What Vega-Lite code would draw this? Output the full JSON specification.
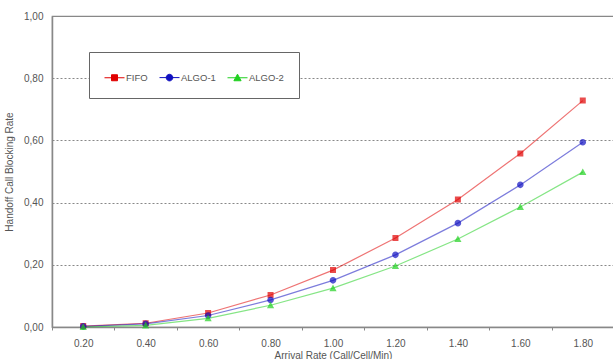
{
  "$schema": "https://vega.github.io/schema/vega-lite/v6.json",
  "width": 562,
  "height": 311,
  "autosize": {"type": "none"},
  "padding": {"left": 52, "top": 16, "right": 0, "bottom": 32},
  "background": "white",
  "config": {
    "view": {"stroke": "#888888", "strokeWidth": 1.2},
    "font": "Liberation Sans",
    "axis": {"labelFont": "Liberation Sans", "titleFont": "Liberation Sans", "labelColor": "#555555", "titleColor": "#555555", "labelFontSize": 10, "titleFontSize": 10, "titleFontWeight": "normal", "domainColor": "#888888", "domainWidth": 1.5, "tickColor": "#888888"},
    "legend": {"labelFont": "Liberation Sans", "labelFontSize": 10, "labelColor": "#555555"}
  },
  "data": {"values": [
    {"rate": "0.20", "series": "FIFO", "value": 0.003},
    {"rate": "0.40", "series": "FIFO", "value": 0.012},
    {"rate": "0.60", "series": "FIFO", "value": 0.045},
    {"rate": "0.80", "series": "FIFO", "value": 0.103},
    {"rate": "1.00", "series": "FIFO", "value": 0.183},
    {"rate": "1.20", "series": "FIFO", "value": 0.286},
    {"rate": "1.40", "series": "FIFO", "value": 0.41},
    {"rate": "1.60", "series": "FIFO", "value": 0.558},
    {"rate": "1.80", "series": "FIFO", "value": 0.728},
    {"rate": "0.20", "series": "ALGO-1", "value": 0.002},
    {"rate": "0.40", "series": "ALGO-1", "value": 0.01},
    {"rate": "0.60", "series": "ALGO-1", "value": 0.037},
    {"rate": "0.80", "series": "ALGO-1", "value": 0.087},
    {"rate": "1.00", "series": "ALGO-1", "value": 0.15},
    {"rate": "1.20", "series": "ALGO-1", "value": 0.232},
    {"rate": "1.40", "series": "ALGO-1", "value": 0.334},
    {"rate": "1.60", "series": "ALGO-1", "value": 0.457},
    {"rate": "1.80", "series": "ALGO-1", "value": 0.594},
    {"rate": "0.20", "series": "ALGO-2", "value": 0.0},
    {"rate": "0.40", "series": "ALGO-2", "value": 0.005},
    {"rate": "0.60", "series": "ALGO-2", "value": 0.028},
    {"rate": "0.80", "series": "ALGO-2", "value": 0.07},
    {"rate": "1.00", "series": "ALGO-2", "value": 0.125},
    {"rate": "1.20", "series": "ALGO-2", "value": 0.196},
    {"rate": "1.40", "series": "ALGO-2", "value": 0.283},
    {"rate": "1.60", "series": "ALGO-2", "value": 0.386},
    {"rate": "1.80", "series": "ALGO-2", "value": 0.498}
  ]},
  "encoding": {
    "x": {"field": "rate", "type": "ordinal", "sort": null,
      "scale": {"type": "band", "paddingInner": 0, "paddingOuter": 0},
      "axis": {"title": "Arrival Rate (Call/Cell/Min)", "labelAngle": 0, "tickBand": "extent", "tickSize": 3, "labelPadding": 8, "titlePadding": 2}},
    "y": {"field": "value", "type": "quantitative",
      "scale": {"domain": [0, 1]},
      "axis": {"title": "Handoff Call Blocking Rate", "values": [0, 0.2, 0.4, 0.6, 0.8, 1.0], "labelExpr": "replace(format(datum.value, '.2f'), '.', ',')", "ticks": false, "labelPadding": 9, "titlePadding": 9, "grid": true, "gridColor": "#888888", "gridDash": [2, 2], "gridWidth": 1}},
    "color": {"field": "series", "type": "nominal", "scale": {"domain": ["FIFO", "ALGO-1", "ALGO-2"], "range": ["#e00000", "#1010c0", "#20d020"]},
      "legend": {"title": null, "orient": "none", "legendX": 37, "legendY": 36, "direction": "horizontal",
        "fillColor": "white", "strokeColor": "#666666", "padding": 15, "symbolSize": 400, "columnPadding": 9, "labelOffset": 1, "labelFontSize": 9.5,
        "symbolStrokeWidth": 1, "symbolOpacity": 1}
    }
  },
  "layer": [
    {
      "mark": {"type": "line", "strokeWidth": 1.2, "strokeOpacity": 0.55}
    },
    {
      "mark": {"type": "point", "filled": true, "size": 400, "strokeWidth": 0},
      "encoding": {
        "stroke": {"field": "series", "type": "nominal", "scale": {"domain": ["FIFO", "ALGO-1", "ALGO-2"], "range": ["#e00000", "#1010c0", "#20d020"]}, "legend": null},
        "shape": {"field": "series", "type": "nominal", "scale": {"domain": ["FIFO", "ALGO-1", "ALGO-2"], "range": ["M-1,0H1M-0.3,-0.3H0.3V0.3H-0.3Z", "M-1,0H1M0.33,0A0.33,0.33 0 1,1 -0.33,0A0.33,0.33 0 1,1 0.33,0Z", "M-1,0H1M0,-0.36L0.36,0.3H-0.36Z"]}, "legend": null}
      }
    }
  ]
}
